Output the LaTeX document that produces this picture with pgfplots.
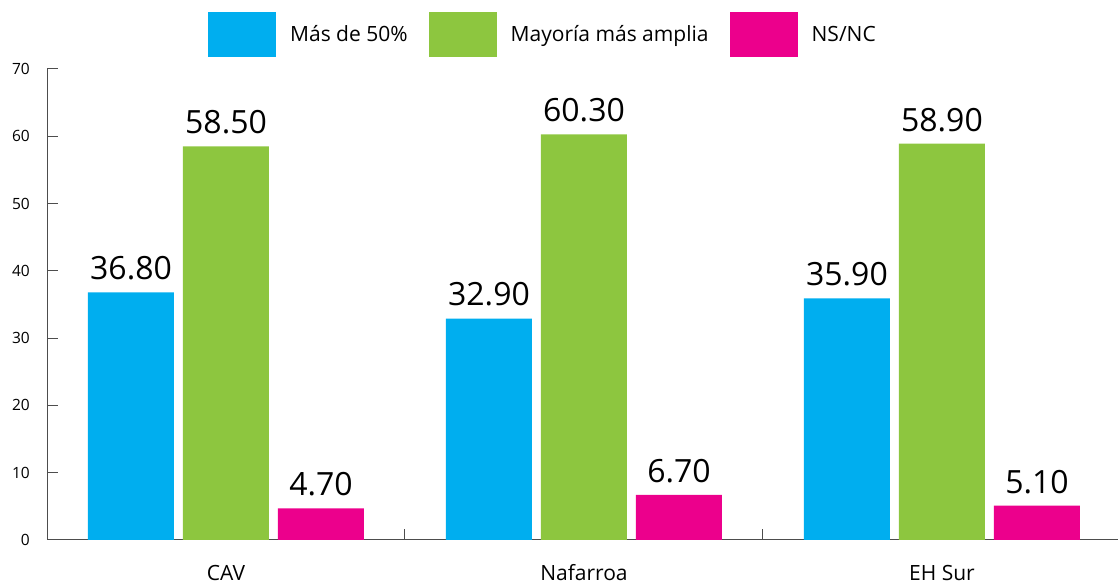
\documentclass[border=0pt]{standalone}
\usepackage{fontspec}
\setmainfont{Open Sans}
\usepackage{pgfplots}
\pgfplotsset{compat=1.18}
\definecolor{cblue}{HTML}{00AEEF}
\definecolor{cgreen}{HTML}{8DC63F}
\definecolor{cmag}{HTML}{EC008C}
\definecolor{axgray}{HTML}{4D4D4D}
\begin{document}
\begin{tikzpicture}[x=1pt,y=1pt]
\useasboundingbox (0,0) rectangle (1118,583);
\begin{axis}[
    at={(47pt,43pt)}, anchor=south west,
    scale only axis, width=1074pt, height=471pt,
    xmin=-0.5, xmax=2.5, ymin=0, ymax=70,
    ytick={0,10,...,70},
    xtick=\empty,
    extra x ticks={0,1,2},
    extra x tick labels={CAV,Nafarroa,EH Sur},
    extra x tick style={tick style={draw=none}},
    axis lines*=left,
    axis line style={axgray, line width=1pt},
    major tick length=11pt, tick align=inside,
    tick style={axgray, line width=1pt},
    /pgf/number format/assume math mode=true,
    yticklabel style={font=\fontsize{15.5}{18}\selectfont, anchor=east, inner sep=0pt, xshift=-17pt},
    xticklabel style={font=\fontsize{21}{25}\selectfont, anchor=base, inner sep=0pt, yshift=-29pt},
    ybar=9pt, bar width=86pt,
    nodes near coords,
    nodes near coords style={font=\fontsize{32}{38}\selectfont, anchor=south, inner sep=0pt, yshift=12pt,
        /pgf/number format/.cd, fixed, fixed zerofill, precision=2},
    legend style={draw=none, at={(0.4618,1.0743)}, anchor=center, legend columns=-1,
        font=\fontsize{21}{25}\selectfont,
        /tikz/every odd column/.append style={column sep=12pt},
        /tikz/every even column/.append style={column sep=19pt}},
    legend image code/.code={\fill[#1] (0pt,-22pt) rectangle (68pt,23pt);},
]
\addplot[fill=cblue, draw=none] coordinates {(0,36.8) (1,32.9) (2,35.9)};
\addplot[fill=cgreen, draw=none] coordinates {(0,58.5) (1,60.3) (2,58.9)};
\addplot[fill=cmag, draw=none] coordinates {(0,4.7) (1,6.7) (2,5.1)};
\legend{Más de 50\%, Mayoría más amplia, NS/NC}
% group separator ticks on the x axis
\draw[axgray, line width=1pt] (axis cs:0.5,0) -- ++(0pt,11pt);
\draw[axgray, line width=1pt] (axis cs:1.5,0) -- ++(0pt,11pt);
\end{axis}
\end{tikzpicture}
\end{document}
